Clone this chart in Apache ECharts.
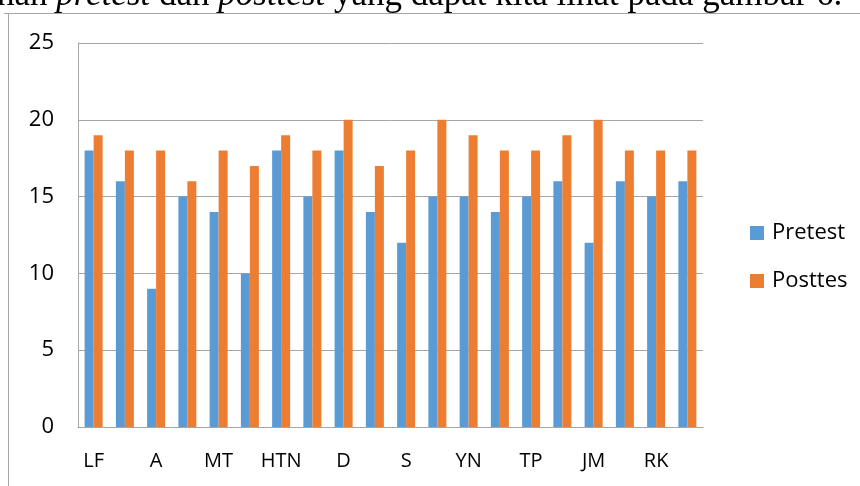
<!DOCTYPE html>
<html><head><meta charset="utf-8">
<script src="https://cdn.jsdelivr.net/npm/echarts@6/dist/echarts.min.js"></script>
<style>html,body{margin:0;padding:0;background:#fff}#c{width:860px;height:486px}</style>
</head><body><div id="c"></div>
<script>
const categories = ["LF","","A","","MT","","HTN","","D","","S","","YN","","TP","","JM","","RK",""];
const pretest = [18,16,9,15,14,10,18,15,18,14,12,15,15,14,15,16,12,16,15,16];
const posttes = [19,18,18,16,18,17,19,18,20,17,18,20,19,18,18,19,20,18,18,18];
const yTicks = {min:0, max:25, interval:5};
const seriesNames = ["Pretest","Posttes"];

const chart = echarts.init(document.getElementById('c'), null, {renderer:'canvas'});
const font = "'Open Sans', 'Liberation Sans', sans-serif";
const serif = "'Liberation Serif', 'DejaVu Serif', serif";
chart.setOption({
  animation:false,
  backgroundColor:'#fff',
  graphic:[
    {type:'rect', shape:{x:8.5,y:13.5,width:900,height:500}, style:{fill:'none',stroke:'#a6a6a6',lineWidth:1}, silent:true},
    {type:'line', shape:{x1:4,y1:13.5,x2:9,y2:13.5}, style:{stroke:'#a6a6a6',lineWidth:1}},
    {type:'text', x:-3, y:-4, style:{
      verticalAlign:'middle', align:'left',
      rich:{n:{font:"35px " + serif, fill:'#000'}, i:{font:"italic 35px " + serif, fill:'#000'}},
      text:'{n|han }{i|pretest}{n| dan }{i|posttest}{n| yang dapat kita lihat pada gambar 6.}'
    }}
  ],
  legend:{
    orient:'vertical', left:745, top:217, itemGap:26, itemWidth:14, itemHeight:14,
    icon:'rect',
    textStyle:{fontFamily:font, fontSize:22, color:'#000', padding:[0,0,0,3]},
    data:seriesNames
  },
  grid:{left:78, right:157, top:43, bottom:59, containLabel:false},
  xAxis:{
    type:'category', data:categories,
    axisLine:{lineStyle:{color:'#a6a6a6', width:1}},
    axisTick:{show:false},
    axisLabel:{interval:1, color:'#000', fontFamily:font, fontSize:20, margin:24}
  },
  yAxis:{
    type:'value', min:yTicks.min, max:yTicks.max, interval:yTicks.interval,
    axisLine:{show:true, lineStyle:{color:'#a6a6a6', width:1}},
    axisTick:{show:false},
    splitLine:{lineStyle:{color:'#a6a6a6', width:1}},
    axisLabel:{color:'#000', fontFamily:font, fontSize:22, margin:24}
  },
  series:[
    {name:seriesNames[0], type:'bar', data:pretest, barWidth:9, barGap:'0%', itemStyle:{color:'#5B9BD5'}},
    {name:seriesNames[1], type:'bar', data:posttes, barWidth:9, barGap:'0%', itemStyle:{color:'#ED7D31'}}
  ]
});
</script></body></html>
